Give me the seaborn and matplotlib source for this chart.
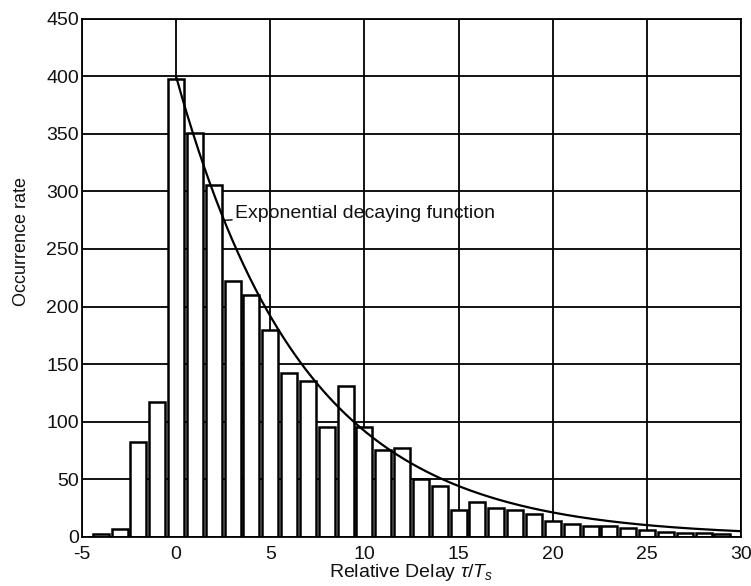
import numpy as np
import pandas as pd
import matplotlib
matplotlib.use("Agg")
import matplotlib.pyplot as plt
import seaborn as sns

# Histogram of relative delays (in units of the sampling period)
delays = list(range(-4, 30))
counts = [2, 7, 82, 117, 398, 351, 306, 222, 210, 180, 142, 135, 95, 131, 95,
          75, 77, 50, 44, 23, 30, 25, 23, 20, 14, 11, 9, 9, 8, 6, 4, 3, 3, 2]

# Exponential decay envelope: amplitude and decay constant
decay_amp = 400.0
decay_tau = 6.8
x_ticks = [-5, 0, 5, 10, 15, 20, 25, 30]
y_ticks = [0, 50, 100, 150, 200, 250, 300, 350, 400, 450]

sns.set_style("white")
plt.rcParams["font.family"] = ["Liberation Sans", "DejaVu Sans"]
plt.rcParams["mathtext.fontset"] = "custom"
plt.rcParams["mathtext.it"] = "Liberation Sans:italic"
plt.rcParams["mathtext.rm"] = "Liberation Sans"
plt.rcParams["axes.unicode_minus"] = False

df = pd.DataFrame({"delay": delays, "count": counts})

fig = plt.figure(figsize=(7.51, 5.86), dpi=100)
ax = fig.add_axes([0.109, 0.084, 0.878, 0.884])

ax.grid(True, color="black", linewidth=1.3, linestyle="-")
ax.set_axisbelow(True)

sns.histplot(data=df, x="delay", weights="count", discrete=True, shrink=0.85,
             color="white", edgecolor="black", linewidth=1.8, alpha=1.0, ax=ax)

xs = np.linspace(0, 30, 301)
env = pd.DataFrame({"x": xs, "y": decay_amp * np.exp(-xs / decay_tau)})
sns.lineplot(data=env, x="x", y="y", color="black", linewidth=1.6, ax=ax)

ax.annotate("Exponential decaying function",
            xy=(2.55, decay_amp * np.exp(-2.55 / decay_tau)),
            xytext=(3.15, 281), fontsize=14, va="center", ha="left",
            color="#111111",
            arrowprops=dict(arrowstyle="-", color="black", lw=1.0,
                            shrinkA=0, shrinkB=0))

ax.set_xlim(-5, 30)
ax.set_ylim(0, 450)
ax.set_xticks(x_ticks)
ax.set_yticks(y_ticks)
ax.tick_params(axis="both", direction="in", labelsize=14, length=4,
               color="black", labelcolor="#111111")
ax.tick_params(axis="x", pad=7)
ax.tick_params(axis="y", pad=2)

for s in ax.spines.values():
    s.set_color("black")
    s.set_linewidth(1.3)
    s.set_visible(True)

ax.set_xlabel(r"Relative Delay $\tau/T_s$", fontsize=14, labelpad=-1,
              color="#111111")
ax.set_ylabel("Occurrence rate", fontsize=13, color="#111111")
ax.yaxis.set_label_coords(-0.078, 0.57)

fig.savefig("out.png", dpi=100)
